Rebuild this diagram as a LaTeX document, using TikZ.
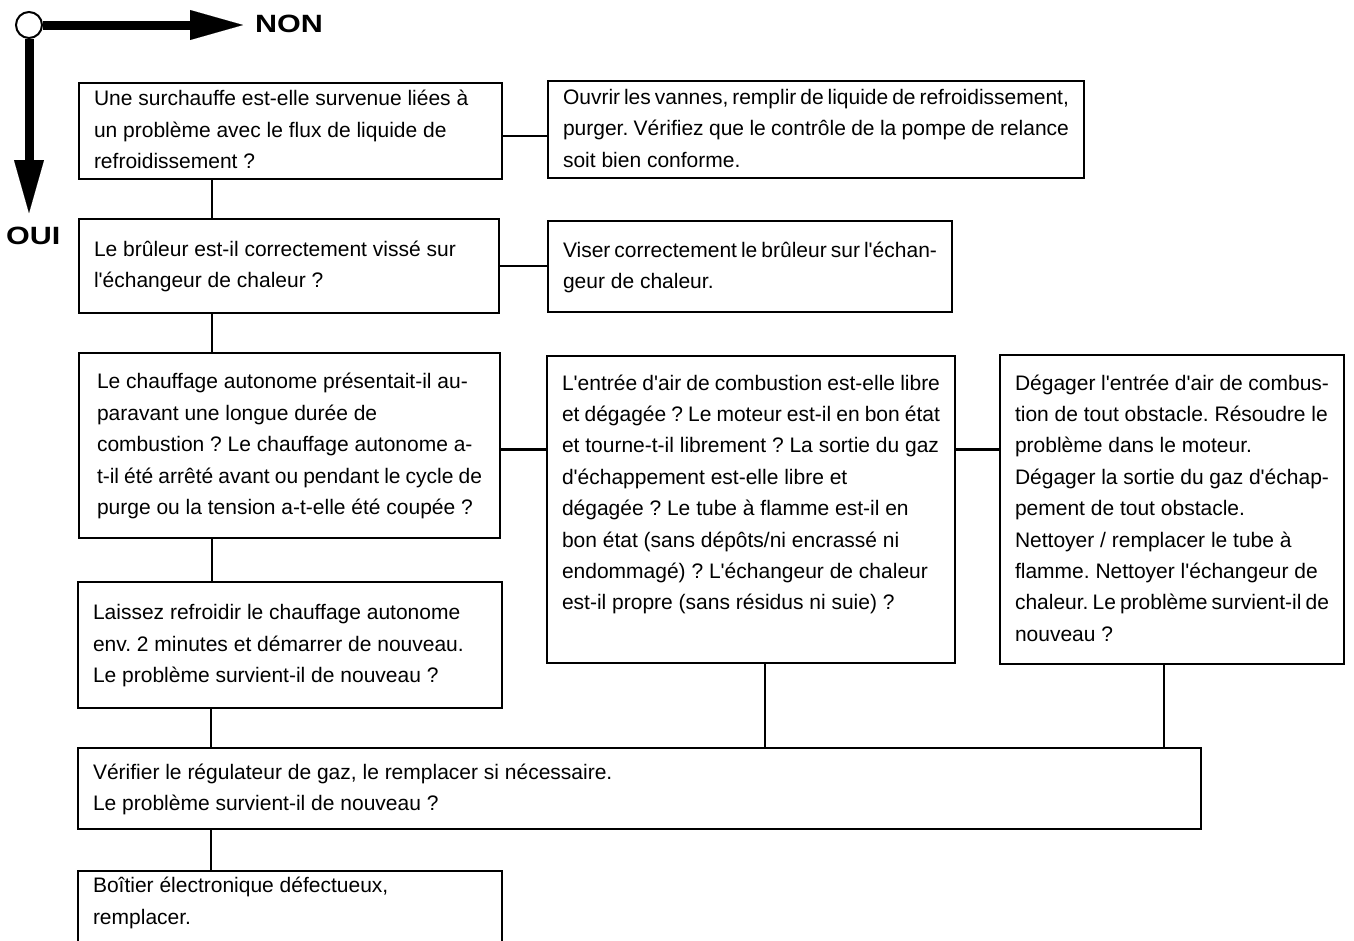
\documentclass[tikz,border=0pt]{standalone}
\usepackage{fontspec}
\setmainfont{Liberation Sans}[Ligatures=TeXOff]
\usetikzlibrary{arrows.meta}
\frenchspacing

\begin{document}
\begin{tikzpicture}[x=1pt,y=-1pt,
	box/.style={draw,line width=2pt,anchor=north west,align=justify,inner xsep=15pt,inner ysep=0pt,
		font=\fontsize{21}{31.4}\selectfont,
		execute at begin node={\frenchspacing\hyphenpenalty=10000\relax\exhyphenpenalty=10000\relax\strut},
		execute at end node=\strut},
	link/.style={line width=2.5pt},
	bigarrow/.style={line width=9pt,-{Triangle[length=53pt,width=30pt,line width=0.1pt]}},
	answer/.style={font=\fontsize{25}{30}\selectfont\bfseries,inner sep=0pt,anchor=west}]
	\useasboundingbox (0,0) rectangle (1354,940);

	%YES / NO KEY
	\node[circle,draw,fill=white,line width=2pt,minimum size=26pt,inner sep=0pt] (fork) at (29,25) {};
	\coordinate (nontip) at (243,25);
	\coordinate (ouitip) at (29,213);
	\draw[bigarrow] (fork) -- (nontip);
	\draw[bigarrow] (fork) -- (ouitip);
	\node[answer] (non) at (255,24) {\scalebox{1.22}[1]{NON}};
	\node[answer] (oui) at (6,236) {\scalebox{1.22}[1]{OUI}};

	%LEFT COLUMN -- QUESTIONS
	\node[box,text width=393pt,minimum height=96pt] (qcool) at (78,82)
		{Une surchauffe est-elle survenue liées à\\un problème avec le flux de liquide de\\refroidissement ?};
	\node[box,text width=390pt,minimum height=94pt] (qburner) at (78,218)
		{Le brûleur est-il correctement vissé sur\\l'échangeur de chaleur ?};
	\node[box,inner xsep=18pt,text width=385pt,minimum height=185pt] (qrun) at (78,352)
		{Le chauffage autonome présentait-il au-\\paravant une longue durée de\\combustion ? Le chauffage autonome a-\\t-il été arrêté avant ou pendant le cycle de\\purge ou la tension a-t-elle été coupée ?};
	\node[box,text width=394pt,minimum height=126pt] (qcool2) at (77,581)
		{Laissez refroidir le chauffage autonome\\env. 2 minutes et démarrer de nouveau.\\Le problème survient-il de nouveau ?};
	\node[box,text width=1093pt,minimum height=81pt] (qgas) at (77,747)
		{Vérifier le régulateur de gaz, le remplacer si nécessaire.\\Le problème survient-il de nouveau ?};
	\node[box,text width=394pt] (aecu) at (77,870)
		{Boîtier électronique défectueux,\\remplacer.\\\mbox{}};

	%RIGHT SIDE -- REMEDIES
	\node[box,text width=506pt,minimum height=97pt] (acool) at (547,80)
		{Ouvrir les vannes, remplir de liquide de refroidissement,\\purger. Vérifiez que le contrôle de la pompe de relance\\soit bien conforme.};
	\node[box,text width=374pt,minimum height=91pt] (aburner) at (547,220)
		{Viser correctement le brûleur sur l'échan-\\geur de chaleur.};
	\node[box,text width=378pt,minimum height=307pt] (qair) at (546,355)
		{L'entrée d'air de combustion est-elle libre\\et dégagée ? Le moteur est-il en bon état\\et tourne-t-il librement ? La sortie du gaz\\d'échappement est-elle libre et\\dégagée ? Le tube à flamme est-il en\\bon état (sans dépôts/ni encrassé ni\\endommagé) ? L'échangeur de chaleur\\est-il propre (sans résidus ni suie) ?\\\mbox{}};
	\node[box,text width=314pt,minimum height=309pt] (aair) at (999,354)
		{Dégager l'entrée d'air de combus-\\tion de tout obstacle. Résoudre le\\problème dans le moteur.\\Dégager la sortie du gaz d'échap-\\pement de tout obstacle.\\Nettoyer / remplacer le tube à\\flamme. Nettoyer l'échangeur de\\chaleur. Le problème survient-il de\\nouveau ?};

	%CONNECTORS
	\foreach \a/\b in {qcool/qburner,qburner/qrun,qrun/qcool2,qcool2/qgas,qgas/aecu}
		\draw[link] ([xshift=134pt]\a.south west) -- ([xshift=134pt]\a.south west |- \b.north);
	\draw[link] ([yshift=-5pt]qcool.east) -- ([yshift=-5pt]qcool.east -| acool.west);
	\draw[link] (qburner.east) -- (qburner.east -| aburner.west);
	\draw[link] ([yshift=-4pt]qrun.east) -- ([yshift=-4pt]qrun.east -| qair.west);
	\draw[link] ([yshift=-4pt]qrun.east -| qair.east) -- ([yshift=-4pt]qrun.east -| aair.west);
	\draw[link] ([xshift=14pt]qair.south) -- ([xshift=14pt]qair.south |- qgas.north);
	\draw[link] ([xshift=-8pt]aair.south) -- ([xshift=-8pt]aair.south |- qgas.north);
\end{tikzpicture}
\end{document}
